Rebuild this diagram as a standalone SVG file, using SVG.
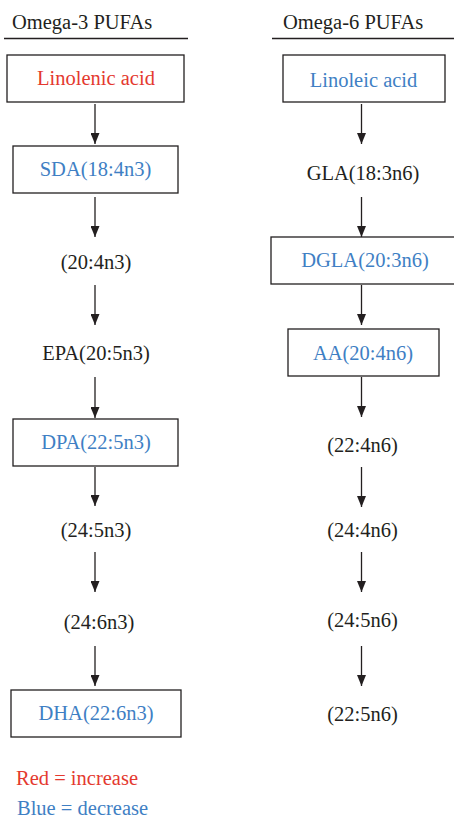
<svg xmlns="http://www.w3.org/2000/svg" width="454" height="822" viewBox="0 0 454 822">
<defs>
<style>
text{font-family:"Liberation Serif","Times New Roman",serif;font-size:20.5px;fill:#231f20}
.c{text-anchor:middle}
.red{fill:#e4392f}
.blue{fill:#3f7fc4}
.box{fill:#fff;stroke:#231f20;stroke-width:1.3}
.rule{stroke:#231f20;stroke-width:1.3}
.conn line{stroke:#231f20;stroke-width:1.3;marker-end:url(#ah)}
</style>
<marker id="ah" markerUnits="userSpaceOnUse" markerWidth="11" markerHeight="9" viewBox="0 0 11 9" refX="11" refY="4.5" orient="auto">
<path d="M0,0 L11,4.5 L0,9 Z" fill="#231f20"/>
</marker>
</defs>
<rect width="454" height="822" fill="#fff"/>
<g id="headers">
<text x="12" y="29">Omega-3 PUFAs</text>
<line class="rule" x1="4" y1="38.5" x2="188" y2="38.5"/>
<text x="283" y="29">Omega-6 PUFAs</text>
<line class="rule" x1="272" y1="38.5" x2="454" y2="38.5"/>
</g>
<g class="conn" id="connectors">
<line x1="95" y1="104" x2="95" y2="144"/>
<line x1="95" y1="197" x2="95" y2="237"/>
<line x1="95" y1="285" x2="95" y2="325"/>
<line x1="95" y1="377" x2="95" y2="418"/>
<line x1="95" y1="467" x2="95" y2="506"/>
<line x1="95" y1="552" x2="95" y2="592"/>
<line x1="95" y1="646" x2="95" y2="686"/>
<line x1="361.5" y1="104" x2="361.5" y2="144"/>
<line x1="361.5" y1="197" x2="361.5" y2="237"/>
<line x1="361.5" y1="285" x2="361.5" y2="325"/>
<line x1="361.5" y1="377" x2="361.5" y2="417"/>
<line x1="361.5" y1="467" x2="361.5" y2="507"/>
<line x1="361.5" y1="552" x2="361.5" y2="592"/>
<line x1="361.5" y1="646" x2="361.5" y2="686"/>
</g>
<g id="linolenic"><rect class="box" x="7" y="55" width="177" height="47"/><text class="c red" x="96" y="85">Linolenic acid</text></g>
<g id="sda"><rect class="box" x="13" y="146" width="165" height="47"/><text class="c blue" x="95.5" y="176">SDA(18:4n3)</text></g>
<g id="n20_4n3"><text class="c" x="96" y="269">(20:4n3)</text></g>
<g id="epa"><text class="c" x="96" y="360">EPA(20:5n3)</text></g>
<g id="dpa"><rect class="box" x="13" y="419" width="165" height="47"/><text class="c blue" x="96" y="449">DPA(22:5n3)</text></g>
<g id="n24_5n3"><text class="c" x="96" y="537">(24:5n3)</text></g>
<g id="n24_6n3"><text class="c" x="99" y="629">(24:6n3)</text></g>
<g id="dha"><rect class="box" x="11" y="690" width="170" height="47"/><text class="c blue" x="96" y="720">DHA(22:6n3)</text></g>
<g id="linoleic"><rect class="box" x="283" y="55" width="162" height="47"/><text class="c blue" x="363.5" y="87">Linoleic acid</text></g>
<g id="gla"><text class="c" x="363" y="180">GLA(18:3n6)</text></g>
<g id="dgla"><rect class="box" x="271" y="237" width="187" height="47"/><text class="c blue" x="365" y="267">DGLA(20:3n6)</text></g>
<g id="aa"><rect class="box" x="288" y="329" width="151" height="47"/><text class="c blue" x="363" y="360">AA(20:4n6)</text></g>
<g id="n22_4n6"><text class="c" x="362.5" y="452">(22:4n6)</text></g>
<g id="n24_4n6"><text class="c" x="362.5" y="537">(24:4n6)</text></g>
<g id="n24_5n6"><text class="c" x="362.5" y="627">(24:5n6)</text></g>
<g id="n22_5n6"><text class="c" x="362.5" y="721">(22:5n6)</text></g>
<g id="legend">
<text class="red" x="16" y="785">Red = increase</text>
<text class="blue" x="17" y="815">Blue = decrease</text>
</g>
</svg>
